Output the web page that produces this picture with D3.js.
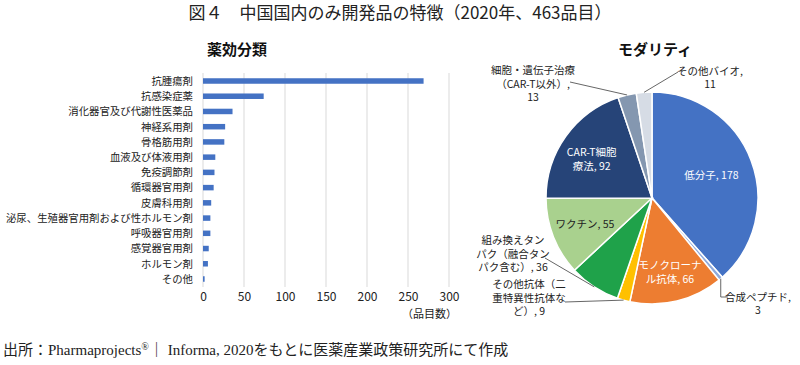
<!DOCTYPE html>
<html>
<head>
<meta charset="utf-8">
<script src="https://cdn.jsdelivr.net/npm/d3@7"></script>
<style>
  body { margin: 0; background: #fff; }
  svg { font-family: "Noto Sans CJK JP", "Noto Sans", sans-serif; }
</style>
</head>
<body>
<svg id="chart" width="800" height="365"></svg>
<script>
// 薬効分類 (品目数)
const categories = ["抗腫瘍剤", "抗感染症薬", "消化器官及び代謝性医薬品", "神経系用剤", "骨格筋用剤",
    "血液及び体液用剤", "免疫調節剤", "循環器官用剤", "皮膚科用剤",
    "泌尿、生殖器官用剤および性ホルモン剤", "呼吸器官用剤", "感覚器官用剤", "ホルモン剤", "その他"];
const counts = [269, 74, 36, 27, 26, 15, 14, 13, 10, 9, 9, 7, 6, 2];
const xTicks = [0, 50, 100, 150, 200, 250, 300];

// モダリティ
const modalities = ["低分子", "合成ペプチド", "モノクローナル抗体", "その他抗体（二重特異性抗体など）",
    "組み換えタンパク（融合タンパク含む）", "ワクチン", "CAR-T細胞療法", "細胞・遺伝子治療（CAR-T以外）", "その他バイオ"];
const modalityValues = [178, 3, 66, 9, 36, 55, 92, 13, 11];
const modalityColors = ["#4472C4", "#8FAADC", "#ED7D31", "#FFC000", "#1FA24A", "#A9D18E", "#264478", "#8497B0", "#D6DCE5"];

const svg = d3.select("#chart");

// titles
svg.append("text").attr("x", 400).attr("y", 19).attr("text-anchor", "middle")
    .attr("font-size", 17).attr("fill", "#222")
    .text("図４　中国国内のみ開発品の特徴（2020年、463品目）");
svg.append("text").attr("x", 237).attr("y", 55).attr("text-anchor", "middle")
    .attr("font-size", 15).attr("font-weight", "bold").attr("fill", "#111").text("薬効分類");
svg.append("text").attr("x", 655).attr("y", 55).attr("text-anchor", "middle")
    .attr("font-size", 15).attr("font-weight", "bold").attr("fill", "#111").text("モダリティ");

// ---- bar chart ----
const x = d3.scaleLinear().domain([0, 300]).range([203, 449]);
const y = d3.scalePoint().domain(categories).range([81, 279]);
const BAR_H = 5.5;

const bar = svg.append("g");
bar.selectAll("line.grid")
    .data(xTicks)
    .enter().append("line")
    .attr("class", "grid")
    .attr("x1", d => x(d)).attr("x2", d => x(d))
    .attr("y1", 73).attr("y2", 287)
    .attr("stroke", "#d9d9d9").attr("stroke-width", 1);

bar.selectAll("rect")
    .data(counts)
    .enter().append("rect")
    .attr("x", x(0))
    .attr("y", (d, i) => y(categories[i]) - BAR_H / 2)
    .attr("width", d => x(d) - x(0))
    .attr("height", BAR_H)
    .attr("fill", "#4472C4");

const yAxis = bar.append("g").attr("transform", `translate(${x(0) - 10},0)`)
    .call(d3.axisLeft(y).tickSize(0).tickPadding(0));
yAxis.select(".domain").remove();
yAxis.selectAll("text").attr("font-size", 10.4).attr("fill", "#222")
    .attr("font-family", "Noto Sans CJK JP");

const xAxis = bar.append("g").attr("transform", "translate(0,292)")
    .call(d3.axisBottom(x).tickValues(xTicks).tickSize(0).tickPadding(0));
xAxis.select(".domain").remove();
xAxis.selectAll("text").attr("font-size", 12).attr("fill", "#222")
    .attr("font-family", "Noto Sans CJK JP").attr("dy", "0.71em");

bar.append("text").attr("x", 457).attr("y", 318).attr("text-anchor", "end")
    .attr("font-size", 11).attr("fill", "#222").text("（品目数）");

// ---- pie ----
const CX = 652, CY = 198, R = 106;
const pie = d3.pie().sort(null).value(d => d)(modalityValues);
const arc = d3.arc().innerRadius(0).outerRadius(R);
const g = svg.append("g").attr("transform", `translate(${CX},${CY})`);

g.selectAll("path")
    .data(pie)
    .enter().append("path")
    .attr("d", arc)
    .attr("fill", (d, i) => modalityColors[i])
    .attr("stroke", "#fff").attr("stroke-width", 1.5);

// label layout: inside labels use a radius factor, outside ones a text centre + leader end
const labelLayout = [
    { inside: 0.6, lines: ["低分子, 178"], color: "#fff", dx: 0, dy: 0 },
    { out: [76, 99], lines: ["合成ペプチド,", "3"], bend: [69, 99], lx: 106, ly: 106 },
    { inside: 0.72, lines: ["モノクローナ", "ル抗体, 66"], color: "#fff", dx: 0, dy: 0 },
    { out: [-87, 104], lines: ["その他抗体（二", "重特異性抗体な", "ど）, 9"], lx: -123, ly: 100 },
    { out: [-107, 60], lines: ["組み換えタン", "パク（融合タン", "パク含む）, 36"], lx: -139, ly: 56 },
    { inside: 0.68, lines: ["ワクチン, 55"], color: "#222", dx: 0, dy: 0 },
    { inside: 0.63, lines: ["CAR-T細胞", "療法, 92"], color: "#fff", dx: -6, dy: 0 },
    { out: [-82, -116], lines: ["細胞・遺伝子治療", "（CAR-T以外）,", "13"], lx: -119, ly: -114 },
    { out: [26, -126], lines: ["その他バイオ,", "11"], lx: 58, ly: -120 }
];
const LINE_H = 13.5;

pie.forEach((d, i) => {
    const L = labelLayout[i];
    const mid = (d.startAngle + d.endAngle) / 2;
    let tx, ty;
    if (L.inside) {
        const c = d3.arc().innerRadius(R * L.inside).outerRadius(R * L.inside).centroid(d);
        tx = c[0] + L.dx; ty = c[1] + L.dy;
    } else {
        const sx = R * Math.sin(mid), sy = -R * Math.cos(mid);
        const pts = [[sx, sy]];
        if (L.bend) pts.push([sx, L.bend[1]]);
        pts.push(L.out);
        g.append("polyline")
            .attr("points", pts.map(p => p.join(",")).join(" "))
            .attr("fill", "none").attr("stroke", "#555").attr("stroke-width", 0.9);
        tx = L.lx; ty = L.ly;
    }
    const t = g.append("text")
        .attr("text-anchor", "middle")
        .attr("font-size", 10.5)
        .attr("fill", L.color || "#222");
    const startY = ty - (L.lines.length - 1) * LINE_H / 2;
    L.lines.forEach((s, k) => {
        t.append("tspan").attr("x", tx).attr("y", startY + k * LINE_H)
            .attr("dy", "0.35em").text(s);
    });
});

// source
const src = svg.append("text").attr("x", 3).attr("y", 355)
    .attr("font-family", "Liberation Serif, Noto Sans CJK JP, serif")
    .attr("font-size", 15).attr("fill", "#222");
src.append("tspan").text("出所：Pharmaprojects");
src.append("tspan").attr("font-size", 10).attr("dy", -5).text("®");
src.append("tspan").attr("dy", 5).text("｜ Informa, 2020をもとに医薬産業政策研究所にて作成");
</script>
</body>
</html>
